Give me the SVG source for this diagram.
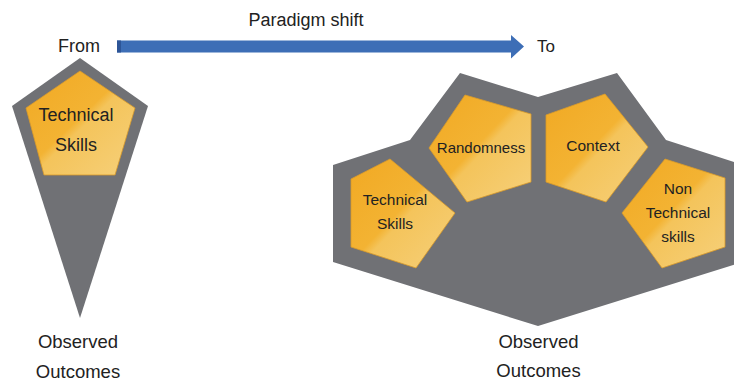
<svg xmlns="http://www.w3.org/2000/svg" width="734" height="382" viewBox="0 0 734 382">
  <style>
    .t { font-family: "Liberation Sans", Arial, sans-serif; fill: #222222; text-anchor: middle; }
    .gray { fill: #707175; }
    .pent { fill: url(#gold); stroke: #D99A2A; stroke-width: 0.8; stroke-linejoin: round; }
  </style>
  <defs>
    <linearGradient id="gold" x1="0" y1="0" x2="1" y2="1">
      <stop offset="0" stop-color="#F1A923"/>
      <stop offset="0.47" stop-color="#F3B333"/>
      <stop offset="0.53" stop-color="#F4C45B"/>
      <stop offset="1" stop-color="#F6D07A"/>
    </linearGradient>
  </defs>

  <text class="t" x="306" y="26" font-size="18">Paradigm shift</text>

  <g id="connectors">
    <polygon points="117,40.5 511,40.5 511,35 524,46.5 511,58.5 511,52.5 117,52.5" fill="#3D6EB6"/>
    <rect x="117" y="40.5" width="4" height="12" fill="#2D5597"/>
  </g>

  <g id="from">
    <text class="t" x="79" y="52" font-size="18">From</text>
  </g>
  <g id="to">
    <text class="t" x="546" y="52" font-size="17">To</text>
  </g>

  <g id="left-funnel">
    <polygon class="gray" points="80,58 148,106 80,318 12,106"/>
  </g>
  <g id="left-technical-skills">
    <polygon class="pent" points="80,71 135,108 115,175 44,175 26,108"/>
    <text class="t" x="76" y="121" font-size="18">Technical</text>
    <text class="t" x="76" y="151" font-size="18">Skills</text>
  </g>
  <g id="left-outcomes">
    <text class="t" x="78" y="348" font-size="18.5">Observed</text>
    <text class="t" x="78" y="378" font-size="18.5">Outcomes</text>
  </g>

  <g id="right-funnel">
    <polygon class="gray" points="460,73 538,97 617,73 666,140 743,165 743,262 538,326 333,262 333,165 410,140"/>
  </g>
  <g id="right-technical-skills">
    <polygon class="pent" points="390,159 455,213 416,268 351,247 351,179"/>
    <text class="t" x="395" y="205" font-size="15.5">Technical</text>
    <text class="t" x="395" y="229" font-size="15.5">Skills</text>
  </g>
  <g id="randomness">
    <polygon class="pent" points="465,95 531,114 531,182 467,202 429,148"/>
    <text class="t" x="481" y="153" font-size="15">Randomness</text>
  </g>
  <g id="context">
    <polygon class="pent" points="546,115 605,94 648,147 606,202 546,182"/>
    <text class="t" x="593" y="151" font-size="15.5">Context</text>
  </g>
  <g id="non-technical-skills">
    <polygon class="pent" points="665,159 725,178 725,247 662,268 622,213"/>
    <text class="t" x="678" y="194" font-size="15.5">Non</text>
    <text class="t" x="678" y="218" font-size="15.5">Technical</text>
    <text class="t" x="678" y="242" font-size="15.5">skills</text>
  </g>
  <g id="right-outcomes">
    <text class="t" x="538.5" y="348" font-size="18.5">Observed</text>
    <text class="t" x="538.5" y="377" font-size="18.5">Outcomes</text>
  </g>
</svg>
